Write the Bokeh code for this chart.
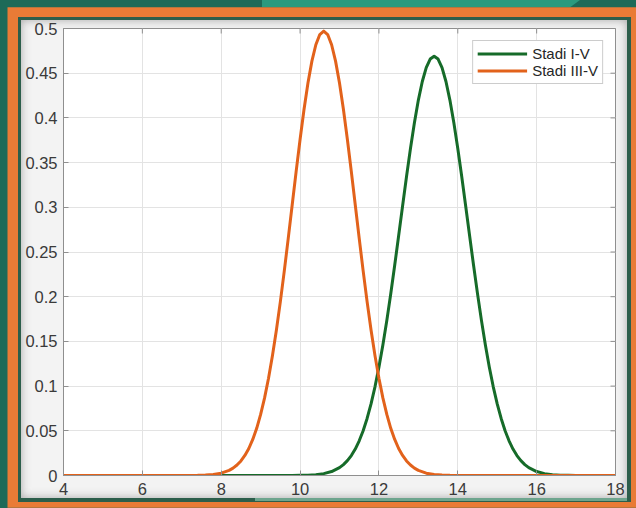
from bokeh.plotting import figure
from bokeh.models import Legend, LegendItem, FixedTicker, Range1d, InlineStyleSheet
from bokeh.embed import file_html
from bokeh.resources import INLINE
import math

# ---- data ----
x_ticks = [4, 6, 8, 10, 12, 14, 16, 18]
y_ticks = [0, 0.05, 0.1, 0.15, 0.2, 0.25, 0.3, 0.35, 0.4, 0.45, 0.5]

stadi_i_v_label = "Stadi I-V"
stadi_i_v_x = [4.0, 9.6, 9.8, 10.0, 10.2, 10.4, 10.6, 10.8, 11.0, 11.1, 11.2, 11.3, 11.4,
               11.5, 11.6, 11.7, 11.8, 11.9, 12.0, 12.1, 12.2, 12.3, 12.4, 12.5, 12.6,
               12.7, 12.8, 12.9, 13.0, 13.1, 13.2, 13.3, 13.4, 13.5, 13.6, 13.7, 13.8,
               13.9, 14.0, 14.1, 14.2, 14.3, 14.4, 14.5, 14.6, 14.7, 14.8, 14.9, 15.0,
               15.1, 15.2, 15.3, 15.4, 15.5, 15.6, 15.7, 15.8, 16.0, 16.2, 16.4, 16.6,
               16.8, 17.0, 17.2, 18.0]
stadi_i_v_y = [0, 0, 0.0001, 0.0002, 0.0004, 0.0009, 0.0021, 0.0044, 0.0088, 0.0122, 0.0166,
               0.0223, 0.0296, 0.0388, 0.0501, 0.0638, 0.0801, 0.0992, 0.1212, 0.1460,
               0.1735, 0.2034, 0.2351, 0.2681, 0.3015, 0.3344, 0.3658, 0.3946, 0.4199,
               0.4407, 0.4562, 0.4658, 0.469, 0.4658, 0.4562, 0.4407, 0.4199, 0.3946,
               0.3658, 0.3344, 0.3015, 0.2681, 0.2351, 0.2034, 0.1735, 0.1460, 0.1212,
               0.0992, 0.0801, 0.0638, 0.0501, 0.0388, 0.0296, 0.0223, 0.0166, 0.0122,
               0.0088, 0.0044, 0.0021, 0.0009, 0.0004, 0.0002, 0.0001, 0, 0]

stadi_iii_v_label = "Stadi III-V"
stadi_iii_v_x = [4.0, 7.0, 7.2, 7.4, 7.6, 7.8, 8.0, 8.2, 8.3, 8.4, 8.5, 8.6, 8.7, 8.8, 8.9,
                 9.0, 9.1, 9.2, 9.3, 9.4, 9.5, 9.6, 9.7, 9.8, 9.9, 10.0, 10.1, 10.2, 10.3,
                 10.4, 10.5, 10.6, 10.7, 10.8, 10.9, 11.0, 11.1, 11.2, 11.3, 11.4, 11.5,
                 11.6, 11.7, 11.8, 11.9, 12.0, 12.1, 12.2, 12.3, 12.4, 12.5, 12.6, 12.7,
                 12.8, 12.9, 13.0, 13.2, 13.4, 13.6, 13.8, 14.0, 14.2, 18.0]
stadi_iii_v_y = [0, 0, 0.0001, 0.0002, 0.0005, 0.0011, 0.0026, 0.0057, 0.0082, 0.0117,
                 0.0163, 0.0224, 0.0302, 0.0403, 0.0528, 0.0683, 0.0868, 0.1087, 0.1341,
                 0.1627, 0.1945, 0.2289, 0.2652, 0.3026, 0.3399, 0.3759, 0.4094, 0.4390,
                 0.4635, 0.4818, 0.4932, 0.497, 0.4932, 0.4818, 0.4635, 0.4390, 0.4094,
                 0.3759, 0.3399, 0.3026, 0.2652, 0.2289, 0.1945, 0.1627, 0.1341, 0.1087,
                 0.0868, 0.0683, 0.0528, 0.0403, 0.0302, 0.0224, 0.0163, 0.0117, 0.0082,
                 0.0057, 0.0026, 0.0011, 0.0005, 0.0002, 0.0001, 0, 0]

GREEN = "#166b29"
ORANGE = "#e2621b"
AXIS = "#8f8f8f"
TEXT = "#3a3a3a"
FONT = "Liberation Sans"

p = figure(width=636, height=508, output_backend="svg", toolbar_location=None,
           x_range=Range1d(x_ticks[0], x_ticks[-1]), y_range=Range1d(y_ticks[0], y_ticks[-1]),
           min_border_left=63, min_border_right=21, min_border_top=28, min_border_bottom=33)

# decorative frame (CSS, shown through the transparent border area)
p.border_fill_alpha = 0
p.background_fill_color = "white"
p.styles = {
    "background-color": "#f3f3f3",
    "box-shadow": ("inset 3.75px 3.5px 0 3.75px #1d6a58, "
                   "inset 6.5px 5.5px 0 11.5px #e97b36, "
                   "inset 6px 5px 0 15px #2c5e4b, "
                   "inset 6px 5px 10px 15px rgba(110,110,110,0.55)"),
}
p.stylesheets = [InlineStyleSheet(css="""
:host::before { content: ''; position: absolute; left: 262px; top: 0; width: 318px; height: 7px;
  background: #2a9a7e; clip-path: polygon(0 0, 100% 0, 97% 100%, 0 100%); z-index: 2; }
:host::after { content: ''; position: absolute; left: 255px; top: 498px; width: 372px; height: 3px;
  background: #6ea58e; z-index: 2; }
""")]

p.outline_line_color = AXIS
p.outline_line_width = 1

for ax in (p.xaxis[0], p.yaxis[0]):
    ax.axis_line_color = AXIS
    ax.major_tick_line_color = AXIS
    ax.major_tick_in = 5
    ax.major_tick_out = 0
    ax.minor_tick_line_color = None
    ax.major_label_text_font = FONT
    ax.major_label_text_font_size = "16.5px"
    ax.major_label_text_color = TEXT
p.xaxis[0].ticker = FixedTicker(ticks=x_ticks)
p.yaxis[0].ticker = FixedTicker(ticks=y_ticks)
p.xaxis[0].major_label_standoff = 7
p.yaxis[0].major_label_standoff = 6
p.yaxis[0].major_label_overrides = {0: "0", 0.5: "0.5"}

p.xgrid.ticker = FixedTicker(ticks=x_ticks)
p.ygrid.ticker = FixedTicker(ticks=y_ticks)
p.xgrid.grid_line_color = "#e3e3e3"
p.ygrid.grid_line_color = "#e3e3e3"

# inward ticks on the right and top edges of the box
p.scatter([x_ticks[-1]] * len(y_ticks), y_ticks, marker="dash", size=10,
          line_color=AXIS, line_width=1)
p.scatter(x_ticks, [y_ticks[-1]] * len(x_ticks), marker="dash", size=10, angle=math.pi / 2,
          line_color=AXIS, line_width=1)

r1 = p.line(stadi_i_v_x, stadi_i_v_y, line_color=GREEN, line_width=3, line_join="round")
r2 = p.line(stadi_iii_v_x, stadi_iii_v_y, line_color=ORANGE, line_width=3, line_join="round")

legend = Legend(items=[LegendItem(label=stadi_i_v_label, renderers=[r1]),
                       LegendItem(label=stadi_iii_v_label, renderers=[r2])],
                location="top_right", margin=12, padding=4, spacing=0,
                glyph_width=50, glyph_height=17, label_height=17, label_standoff=5,
                label_text_font=FONT, label_text_font_size="15px", label_text_color="#262626",
                border_line_color="#9a9a9a", border_line_width=1,
                background_fill_color="white", background_fill_alpha=1)
p.add_layout(legend)

open("out.html", "w").write(file_html(p, INLINE))
